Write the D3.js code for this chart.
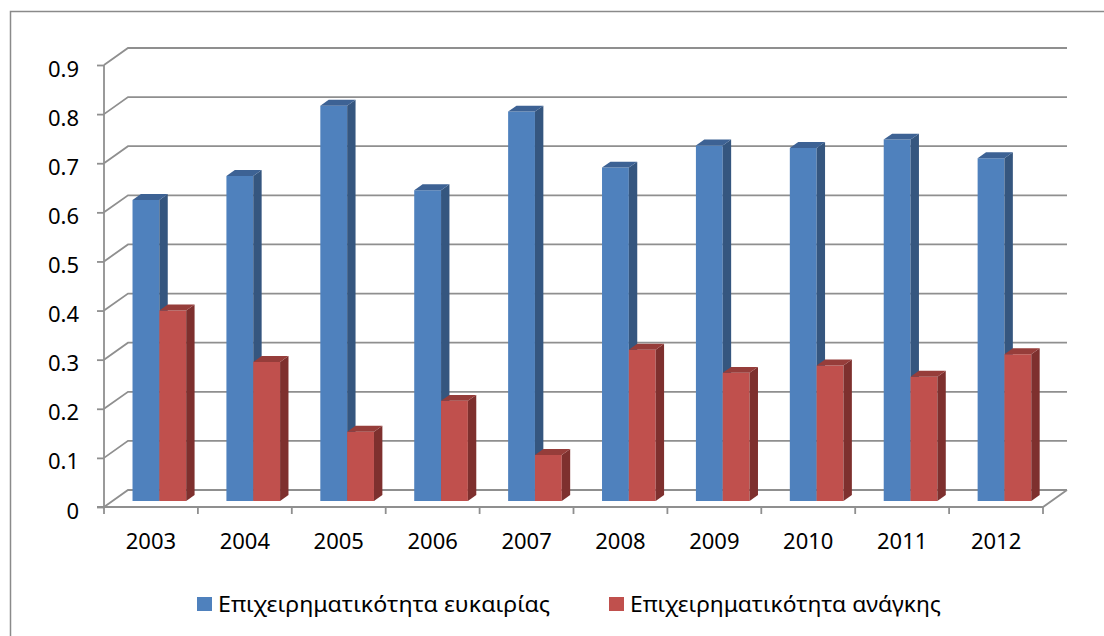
<!DOCTYPE html>
<html>
<head>
<meta charset="utf-8">
<script src="https://cdn.jsdelivr.net/npm/d3@7"></script>
<style>
  body { margin: 0; background: #fff; }
  svg { display: block; font-family: "Noto Sans", sans-serif; }
</style>
</head>
<body>
<div id="chart"></div>
<script>
const years = ["2003", "2004", "2005", "2006", "2007", "2008", "2009", "2010", "2011", "2012"]
const opportunity = [0.613, 0.662, 0.805, 0.633, 0.793, 0.679, 0.724, 0.719, 0.736, 0.698]
const necessity = [0.388, 0.283, 0.141, 0.204, 0.094, 0.308, 0.261, 0.276, 0.253, 0.299]
const seriesNames = ["Επιχειρηματικότητα ευκαιρίας", "Επιχειρηματικότητα ανάγκης"]
const yTicks = [0, 0.1, 0.2, 0.3, 0.4, 0.5, 0.6, 0.7, 0.8, 0.9]

const W = 1104, H = 636
const FRONT = { LEFT: 104, RIGHT: 1043, TOP: 65, BOTTOM: 507 }
const DEPTH = { DX: 24, DY: 17 }      // offset of the back wall
const BAR_Z = [0.35, 0.70]            // bar depth, as a share of the wall depth
const GRID = "#8f8f8f"

const colors = [
  { front: "#4f81bd", side: "#35567f", top: "#3d6294" },
  { front: "#c0504d", side: "#7e302e", top: "#963d3a" }
]

const svg = d3.select("#chart").append("svg")
    .attr("width", W)
    .attr("height", H)

// outer frame (only top & left fall inside the picture)
svg.append("path")
    .attr("d", `M10.5,${H} V11.5 H${W}`)
    .attr("fill", "none")
    .attr("stroke", "#8a8a8a")
    .attr("stroke-width", 1.5)

const y = d3.scaleLinear().domain([0, 0.9]).range([FRONT.BOTTOM, FRONT.TOP])
const x = d3.scaleBand().domain(years).range([FRONT.LEFT, FRONT.RIGHT])
const xs = d3.scaleBand().domain([0, 1]).range([0, x.bandwidth()]).paddingInner(0).paddingOuter(0.75)

// project (screen x at front, value, depth 0..1) -> [px, py]
const proj = (px, v, z) => [px + z * DEPTH.DX, y(v) - z * DEPTH.DY]

// gridlines: left wall diagonal + back wall
const grid = svg.append("g")
    .attr("fill", "none")
    .attr("stroke", GRID)
    .attr("stroke-width", 1.8)
grid.selectAll("path")
  .data(yTicks)
  .enter().append("path")
    .attr("d", t => {
      const a = proj(FRONT.LEFT, t, 0), b = proj(FRONT.LEFT, t, 1), c = proj(FRONT.RIGHT, t, 1)
      return `M${a} L${b} L${c}`
    })

// floor: front edge and right edge
const floorR0 = proj(FRONT.RIGHT, 0, 0), floorR1 = proj(FRONT.RIGHT, 0, 1)
grid.append("path").attr("d", `M${FRONT.LEFT - 7},${y(0)} H${FRONT.RIGHT} L${floorR1}`)
// front vertical axis
grid.append("path").attr("d", `M${FRONT.LEFT},${y(0.9)} V${y(0)}`)

// y axis ticks + labels
const yAxis = d3.axisLeft(y).tickValues(yTicks).tickSize(7).tickPadding(0)
    .tickFormat(d => d === 0 ? "0" : d3.format(".1f")(d))
const yg = svg.append("g")
    .attr("transform", `translate(${FRONT.LEFT},0)`)
    .call(yAxis)
yg.select(".domain").remove()
yg.selectAll(".tick line").attr("stroke", GRID).attr("stroke-width", 1.8)
yg.selectAll(".tick text")
    .attr("x", 79 - FRONT.LEFT)
    .attr("dy", null)
    .attr("y", 11)
    .attr("font-size", 22)
    .attr("fill", "#000")
    .attr("font-family", "Noto Sans")

// x ticks at category boundaries
const xEdges = years.map(d => x(d)).concat([FRONT.RIGHT])
grid.selectAll(".xtick")
  .data(xEdges)
  .enter().append("path")
    .attr("class", "xtick")
    .attr("d", d => `M${d},${y(0)} V${y(0) + 7}`)

const xAxis = d3.axisBottom(x).tickSize(0).tickPadding(0)
const xg = svg.append("g")
    .attr("transform", `translate(0,${y(0)})`)
    .call(xAxis)
xg.select(".domain").remove()
xg.selectAll(".tick text")
    .attr("dy", null)
    .attr("y", 42)
    .attr("font-size", 22)
    .attr("fill", "#000")
    .attr("font-family", "Noto Sans")

// bars (drawn left to right, blue then red, so red covers blue's side)
const bars = []
years.forEach((yr, i) => {
  [opportunity[i], necessity[i]].forEach((v, s) => {
    bars.push({ year: yr, series: s, val: v })
  })
})

const z0 = BAR_Z[0], z1 = BAR_Z[1]
const barG = svg.selectAll(".bar")
  .data(bars)
  .enter().append("g")
    .attr("class", "bar")

const poly = pts => "M" + pts.map(p => p.join(",")).join("L") + "Z"

barG.each(function(d) {
  const g = d3.select(this)
  const l = x(d.year) + xs(d.series)
  const r = l + xs.bandwidth()
  const c = colors[d.series]
  // front face
  g.append("path")
      .attr("d", poly([proj(l, 0, z0), proj(r, 0, z0), proj(r, d.val, z0), proj(l, d.val, z0)]))
      .attr("fill", c.front)
  // right side
  g.append("path")
      .attr("d", poly([proj(r, 0, z0), proj(r, 0, z1), proj(r, d.val, z1), proj(r, d.val, z0)]))
      .attr("fill", c.side)
  // top
  g.append("path")
      .attr("d", poly([proj(l, d.val, z0), proj(r, d.val, z0), proj(r, d.val, z1), proj(l, d.val, z1)]))
      .attr("fill", c.top)
})

// legend
const legendPos = [{ box: 197, text: 218, width: 332 }, { box: 609, text: 630, width: 311 }]
const legend = svg.selectAll(".legend")
  .data(seriesNames)
  .enter().append("g")
    .attr("class", "legend")
legend.append("rect")
    .attr("x", (d, i) => legendPos[i].box)
    .attr("y", 597)
    .attr("width", 15)
    .attr("height", 14)
    .attr("fill", (d, i) => colors[i].front)
legend.append("text")
    .attr("x", (d, i) => legendPos[i].text)
    .attr("y", 611.5)
    .attr("font-size", 22)
    .attr("fill", "#000")
    .attr("textLength", (d, i) => legendPos[i].width)
    .attr("lengthAdjust", "spacingAndGlyphs")
    .text(d => d)
</script>
</body>
</html>
